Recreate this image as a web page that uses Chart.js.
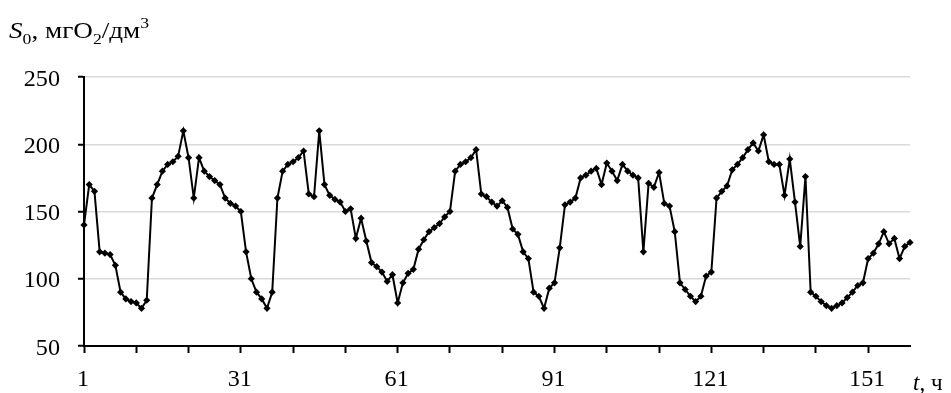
<!DOCTYPE html>
<html>
<head>
<meta charset="utf-8">
<script src="https://cdn.jsdelivr.net/npm/chart.js@4"></script>
<style>
  html, body { margin: 0; padding: 0; background: #ffffff; }
  #wrap { width: 951px; height: 393px; position: relative; }
</style>
</head>
<body>
<div id="wrap"><canvas id="c" width="951" height="393"></canvas></div>
<script>
// categories (hours)
const hours = [];
for (let h = 1; h <= 159; h++) hours.push(String(h));

// S0 values, mgO2/dm3
const s0Values = [
  140,170,165,120,119,118,110,90,85,83,
  82,78,84,160,170,180,185,187,191,210,
  190,160,190,180,176,173,170,160,156,154,
  150,120,100,90,85,78,90,160,180,185,
  187,190,195,163,161,210,170,162,159,157,
  150,152,130,145,128,112,109,105,98,103,
  82,97,104,107,122,129,135,138,141,146,
  150,180,185,187,190,196,163,161,157,154,
  158,153,137,133,120,115,90,87,78,93,
  97,123,155,157,160,175,177,180,182,170,
  186,180,173,185,180,177,175,120,171,168,
  179,156,154,135,97,92,87,83,87,102,
  105,160,165,169,181,185,190,196,201,195,
  207,187,185,185,162,189,157,124,176,90,
  87,83,80,78,80,82,86,90,95,97,
  115,119,126,135,126,130,115,124,127
];

const yTicks = [50, 100, 150, 200, 250];
const xLabelEvery = 30;
const xTickEvery = 10;

const FONT = "'Liberation Serif', 'Times New Roman', serif";
const SX_TICK = 1.05;
const SX_TITLE = 1.18;

function stretchedText(ctx, text, x, y, align, sx) {
  ctx.save();
  ctx.translate(x, y);
  ctx.scale(sx, 1);
  ctx.textAlign = align;
  ctx.fillText(text, 0, 0);
  ctx.restore();
}

const labelPlugin = {
  id: 'labels',
  afterDraw(chart) {
    const ctx = chart.ctx;
    const xs = chart.scales.x, ys = chart.scales.y;
    ctx.save();
    ctx.fillStyle = '#000';
    ctx.textBaseline = 'alphabetic';
    ctx.font = "23px " + FONT;
    for (const v of yTicks) {
      stretchedText(ctx, String(v), 60, ys.getPixelForValue(v) + 8.5, 'right', SX_TICK);
    }
    hours.forEach((h, i) => {
      if (i % xLabelEvery === 0) {
        stretchedText(ctx, h, xs.getPixelForValue(i) - 1, 386, 'center', SX_TICK);
      }
    });
    // y axis title
    const base = 38;
    let x = 9;
    const parts = [
      ["italic 23px " + FONT, 'S', 0],
      ["15px " + FONT, '0', 6],
      ["23px " + FONT, ', мгO', 0],
      ["15px " + FONT, '2', 6],
      ["23px " + FONT, '/дм', 0],
      ["15px " + FONT, '3', -10]
    ];
    for (const [f, t, dy] of parts) {
      ctx.font = f;
      stretchedText(ctx, t, x, base + dy, 'left', SX_TITLE);
      x += ctx.measureText(t).width * SX_TITLE;
    }
    // x axis title
    let x2 = 913;
    const base2 = 390;
    ctx.font = "italic 23px " + FONT;
    ctx.textAlign = 'left';
    ctx.fillText('t', x2, base2);
    x2 += ctx.measureText('t').width;
    ctx.font = "23px " + FONT;
    ctx.fillText(', ч', x2, base2);
    ctx.restore();
  }
};

new Chart(document.getElementById('c'), {
  type: 'line',
  data: {
    labels: hours,
    datasets: [{
      data: s0Values,
      borderColor: '#000',
      backgroundColor: '#000',
      borderWidth: 2,
      pointStyle: 'rectRot',
      pointRadius: 3.6,
      pointBorderWidth: 0,
      pointBackgroundColor: '#000',
      tension: 0
    }]
  },
  options: {
    responsive: false,
    animation: false,
    devicePixelRatio: 1,
    layout: { padding: { left: 0, right: 41, top: 77, bottom: 0 } },
    plugins: { legend: { display: false }, tooltip: { enabled: false } },
    scales: {
      x: {
        type: 'category',
        offset: false,
        afterFit(scale) { scale.height = 47; },
        afterBuildTicks(scale) {
          scale.ticks = scale.ticks.filter(t => t.value % xTickEvery === 0);
        },
        ticks: {
          autoSkip: false,
          maxRotation: 0,
          padding: 10,
          color: 'rgba(0,0,0,0)',
          font: { family: FONT, size: 22 },
          callback(v) { return v % xLabelEvery === 0 ? hours[v] : ''; }
        },
        grid: { drawOnChartArea: false, drawTicks: true, tickLength: 7, tickColor: '#000', tickWidth: 2 },
        border: { display: true, color: '#000', width: 2 }
      },
      y: {
        min: 50,
        max: 250,
        afterFit(scale) { scale.width = 84; },
        afterBuildTicks(scale) { scale.ticks = yTicks.map(v => ({ value: v })); },
        ticks: {
          stepSize: 50,
          padding: 18,
          color: 'rgba(0,0,0,0)',
          font: { family: FONT, size: 22 }
        },
        grid: { color: '#d9d9d9', lineWidth: 1.5, tickLength: 6, tickColor: '#000', tickWidth: 2 },
        border: { display: true, color: '#000', width: 2 }
      }
    }
  },
  plugins: [labelPlugin]
});
</script>
</body>
</html>
